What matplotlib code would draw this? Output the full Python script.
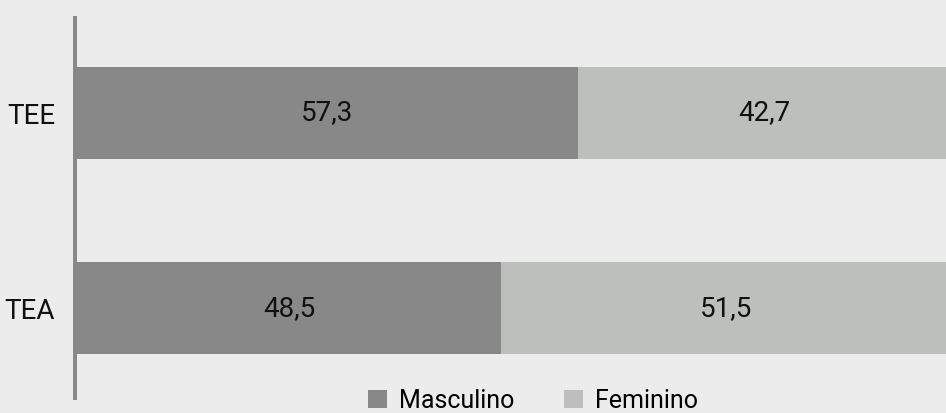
import matplotlib
matplotlib.use("Agg")
import matplotlib.pyplot as plt
from matplotlib.lines import Line2D

categories = ["TEA", "TEE"]
masculino = [48.5, 57.3]
feminino = [51.5, 42.7]
series_names = ["Masculino", "Feminino"]

plt.rcParams['font.family'] = ['Roboto', 'DejaVu Sans']

W, H = 946, 413
fig = plt.figure(figsize=(W / 100, H / 100), dpi=100)
fig.patch.set_facecolor('#ececec')

ax = fig.add_axes([77 / W, 13 / H, 874 / W, 384 / H])
ax.set_facecolor('#ececec')

dark = '#888888'
light = '#bdbfbd'
h = 0.47
y = list(range(len(categories)))
b1 = ax.barh(y, masculino, height=h, color=dark, label=series_names[0])
b2 = ax.barh(y, feminino, left=masculino, height=h, color=light, label=series_names[1])

for bars in (b1, b2):
    labels = [f"{v:.1f}".replace('.', ',') for v in bars.datavalues]
    ax.bar_label(bars, labels=labels, label_type='center', fontsize=20, color='#111111')

ax.set_xlim(0, 100)
ax.set_ylim(-0.47, 1.497)
ax.set_yticks(y)
ax.set_yticklabels(categories, fontsize=20, color='#111111')
ax.tick_params(axis='y', length=0, pad=15.8)
ax.set_xticks([])
for s in ax.spines.values():
    s.set_visible(False)

fig.add_artist(Line2D([75 / W, 75 / W], [13 / H, 397 / H], transform=fig.transFigure,
                      color=dark, linewidth=2.88, solid_capstyle='butt'))

fig.legend(handles=[b1, b2], loc='upper center', bbox_to_anchor=(0.5634, 37 / H),
           ncol=2, frameon=False, fontsize=18, handlelength=0.76, handleheight=0.76,
           handletextpad=0.48, columnspacing=2.0, borderpad=0)

fig.savefig('out.png', dpi=100, facecolor=fig.get_facecolor())
